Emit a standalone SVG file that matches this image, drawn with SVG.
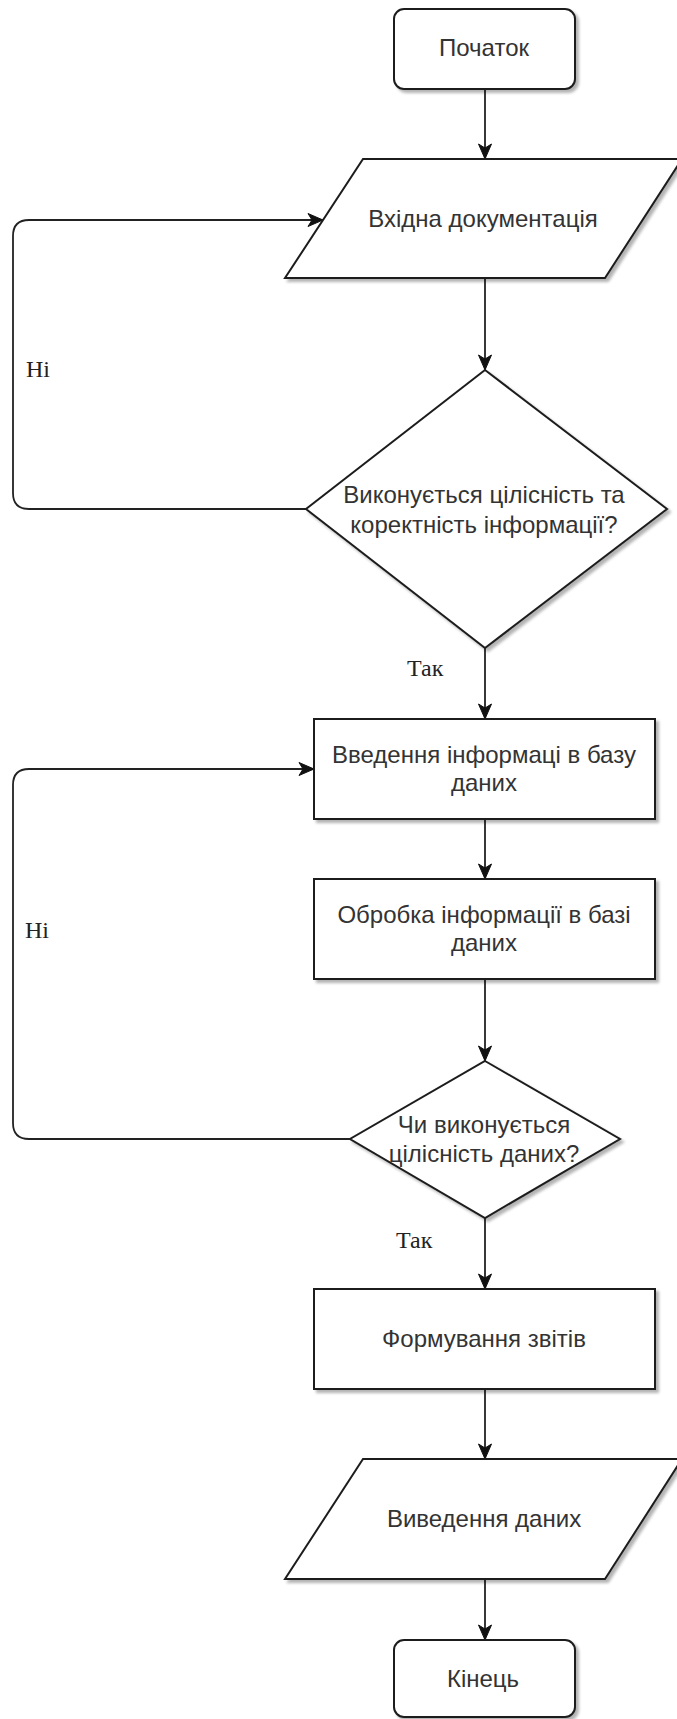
<svg xmlns="http://www.w3.org/2000/svg" width="677" height="1719" viewBox="0 0 677 1719">
<defs>
<style>
.shape{fill:#fff;stroke:#1e1e1e;stroke-width:2;filter:url(#sh)}
.lbl{font-family:"Liberation Sans",Arial,sans-serif;font-size:24px;fill:#333;text-anchor:middle}
.yn{font-family:"Liberation Serif","Times New Roman",serif;font-size:24px;fill:#222}
.con{fill:none;stroke:#222;stroke-width:1.8}
.arr{marker-end:url(#ah)}
</style>
<filter id="sh" x="-10%" y="-10%" width="125%" height="130%">
<feGaussianBlur in="SourceAlpha" stdDeviation="1.5"/>
<feOffset dx="3" dy="3" result="o"/>
<feComponentTransfer><feFuncA type="linear" slope="0.3"/></feComponentTransfer>
<feMerge><feMergeNode/><feMergeNode in="SourceGraphic"/></feMerge>
</filter>
<marker id="ah" markerUnits="userSpaceOnUse" markerWidth="18" markerHeight="16" viewBox="0 0 18 16" refX="16" refY="8" orient="auto">
<path d="M1,1.5 L16,8 L1,14.5 L5,8 Z" fill="#111" stroke="#111" stroke-width="1"/>
</marker>
</defs>
<rect width="677" height="1719" fill="#fff"/>

<g id="connectors">
<path class="con arr" d="M485,89 V159"/>
<path class="con arr" d="M485,278 V370"/>
<path class="con arr" d="M485,648 V719"/>
<path class="con arr" d="M485,819 V879"/>
<path class="con arr" d="M485,979 V1061"/>
<path class="con arr" d="M485,1218 V1289"/>
<path class="con arr" d="M485,1389 V1459"/>
<path class="con arr" d="M485,1579 V1640"/>
<path class="con arr" d="M306,509 H29 Q13,509 13,493 V236 Q13,220 29,220 H323"/>
<path class="con arr" d="M350,1139 H29 Q13,1139 13,1123 V785 Q13,769 29,769 H314"/>
<text class="yn" x="26" y="377">Ні</text>
<text class="yn" x="407" y="676">Так</text>
<text class="yn" x="25" y="938">Ні</text>
<text class="yn" x="396" y="1248">Так</text>
</g>

<g id="start">
<rect class="shape" x="394" y="9" width="181" height="80" rx="10" ry="10"/>
<text class="lbl" x="484" y="56">Початок</text>
</g>

<g id="input">
<polygon class="shape" points="363,159 682,159 605,278 285,278"/>
<text class="lbl" x="483" y="227">Вхідна документація</text>
</g>

<g id="check1">
<polygon class="shape" points="485,370 667,509 485,648 306,509"/>
<text class="lbl" x="484" y="503">Виконується цілісність та</text>
<text class="lbl" x="484" y="533">коректність інформації?</text>
</g>

<g id="enter">
<rect class="shape" x="314" y="719" width="341" height="100"/>
<text class="lbl" x="484" y="763">Введення інформаці в базу</text>
<text class="lbl" x="484" y="791">даних</text>
</g>

<g id="process">
<rect class="shape" x="314" y="879" width="341" height="100"/>
<text class="lbl" x="484" y="923">Обробка інформації в базі</text>
<text class="lbl" x="484" y="951">даних</text>
</g>

<g id="check2">
<polygon class="shape" points="485,1061 620,1139 485,1218 350,1139"/>
<text class="lbl" x="484" y="1133">Чи виконується</text>
<text class="lbl" x="484" y="1162">цілісність даних?</text>
</g>

<g id="reports">
<rect class="shape" x="314" y="1289" width="341" height="100"/>
<text class="lbl" x="484" y="1347">Формування звітів</text>
</g>

<g id="output">
<polygon class="shape" points="363,1459 682,1459 605,1579 285,1579"/>
<text class="lbl" x="484" y="1527">Виведення даних</text>
</g>

<g id="end">
<rect class="shape" x="394" y="1640" width="181" height="77" rx="10" ry="10"/>
<text class="lbl" x="483" y="1687">Кінець</text>
</g>
</svg>
